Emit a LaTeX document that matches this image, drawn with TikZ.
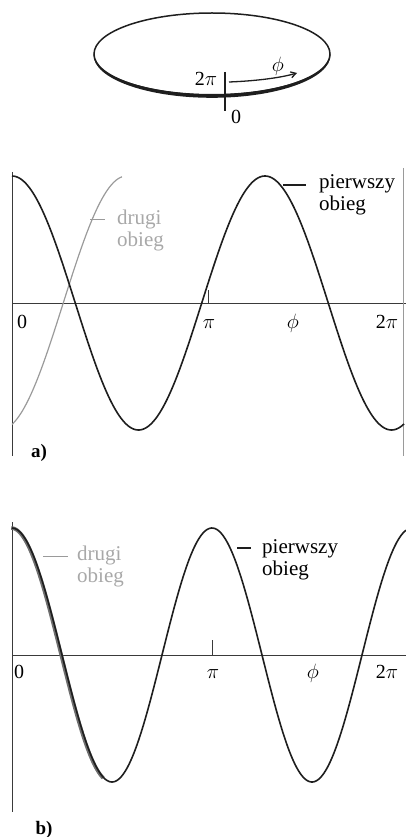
\documentclass[tikz,border=0pt]{standalone}
\usepackage{fontspec}
\setmainfont{Liberation Serif}
\usetikzlibrary{arrows.meta}
\definecolor{ink}{HTML}{1E1E1E}
\definecolor{axisc}{HTML}{3A3A3A}
\definecolor{graycurve}{HTML}{9A9A9A}
\definecolor{graytext}{HTML}{A8A8A8}
\definecolor{graythick}{HTML}{6E6E6E}
\begin{document}
\begin{tikzpicture}[x=1pt,y=-1pt,
  curve/.style={ink, line width=1.6pt},
  graypass/.style={graycurve, line width=1.2pt},
  axisline/.style={axisc, line width=1pt},
  lbl/.style={inner sep=0pt, font=\fontsize{21}{24}\selectfont},
  axlbl/.style={inner sep=0pt, font=\fontsize{20}{22}\selectfont, anchor=base},
  glbl/.style={lbl, text=graytext},
  panel/.style={inner sep=0pt, font=\bfseries\fontsize{19}{22}\selectfont, anchor=base}]
\useasboundingbox (0,0) rectangle (406,837);

% ---- ring ----
\draw[ink, line width=1.5pt] (212,54) ellipse [x radius=118pt, y radius=41pt];
\fill[ink] (93.5,55) arc[start angle=180, end angle=360, x radius=118.5pt, y radius=42.8pt]
  -- (330,54) arc[start angle=0, end angle=-180, x radius=118pt, y radius=40pt] -- cycle;
\coordinate (rt) at (225,72);
\coordinate (rb) at (225,111);
\draw[ink, line width=1.4pt] (rt) -- (rb);
\coordinate (as) at (229,82);
\coordinate (ae) at (297,73);
\draw[ink, line width=1.3pt, -{Straight Barb[length=5pt,width=6pt]}] (as) .. controls (255,81) and (280,78) .. (ae);
\node[axlbl] (r2pi) at (206,86) {2$\pi$};
\node[axlbl] (r0) at (236,124) {0};
\node[axlbl] (rphi) at (278,72) {$\phi$};

% ---- panel a ----
\coordinate (aL0) at (12,172);
\coordinate (aL1) at (12,456);
\coordinate (aX0) at (12,303);
\coordinate (aX1) at (406,303);
\coordinate (aR0) at (403,168);
\coordinate (aR1) at (403,456);
\draw[axisline] (aL0) -- (aL1);
\draw[axisline] (aX0) -- (aX1);
\draw[graycurve, line width=0.9pt] (aR0) -- (aR1);
\coordinate (aT0) at (208,290);
\coordinate (aT1) at (208,303);
\draw[axisline] (aT0) -- (aT1);
\draw[graypass] plot[domain=12:122, samples=80] (\x, {303+127*cos(1.42292*\x)});
\draw[curve] plot[domain=12:404, samples=250] (\x, {303-127*cos(1.42292*(\x-12))});
\node[axlbl] (a0) at (22,328) {0};
\node[axlbl] (api) at (209,328) {$\pi$};
\node[axlbl] (aphi) at (293,328) {$\phi$};
\node[axlbl] (a2pi) at (387,328) {2$\pi$};
\node[panel] (alab) at (39,457) {a)};
\coordinate (apl0) at (283,185);
\coordinate (apl1) at (306,185);
\draw[ink, line width=1.2pt] (apl0) -- (apl1);
\node[lbl, anchor=base west] (ap1) at (319,189) {pierwszy};
\node[lbl, anchor=base west] (ap2) at (319,210) {obieg};
\coordinate (adl0) at (90,219);
\coordinate (adl1) at (105,219);
\draw[graycurve, line width=1pt] (adl0) -- (adl1);
\node[glbl, anchor=base west] (ad1) at (117,224) {drugi};
\node[glbl, anchor=base west] (ad2) at (117,246) {obieg};

% ---- panel b ----
\coordinate (bL0) at (12,522);
\coordinate (bL1) at (12,812);
\coordinate (bX0) at (12,655);
\coordinate (bX1) at (406,655);
\draw[axisline] (bL0) -- (bL1);
\draw[axisline] (bX0) -- (bX1);
\coordinate (bT0) at (212,640);
\coordinate (bT1) at (212,655);
\draw[axisline] (bT0) -- (bT1);
\draw[graythick, line width=3.6pt] plot[domain=12:104, samples=60] (\x-0.8, {655-127*cos(1.8*(\x-12))});
\draw[curve] plot[domain=12:406, samples=250] (\x, {655-127*cos(1.8*(\x-12))});
\node[axlbl] (b0) at (19,678) {0};
\node[axlbl] (bpi) at (213,678) {$\pi$};
\node[axlbl] (bphi) at (313,678) {$\phi$};
\node[axlbl] (b2pi) at (387,678) {2$\pi$};
\node[panel] (blab) at (44,834) {b)};
\coordinate (bpl0) at (237,548);
\coordinate (bpl1) at (251,548);
\draw[ink, line width=1.2pt] (bpl0) -- (bpl1);
\node[lbl, anchor=base west] (bp1) at (262,553) {pierwszy};
\node[lbl, anchor=base west] (bp2) at (262,575) {obieg};
\coordinate (bdl0) at (43,556);
\coordinate (bdl1) at (68,556);
\draw[graycurve, line width=1pt] (bdl0) -- (bdl1);
\node[glbl, anchor=base west] (bd1) at (77,560) {drugi};
\node[glbl, anchor=base west] (bd2) at (77,582) {obieg};
\end{tikzpicture}
\end{document}
